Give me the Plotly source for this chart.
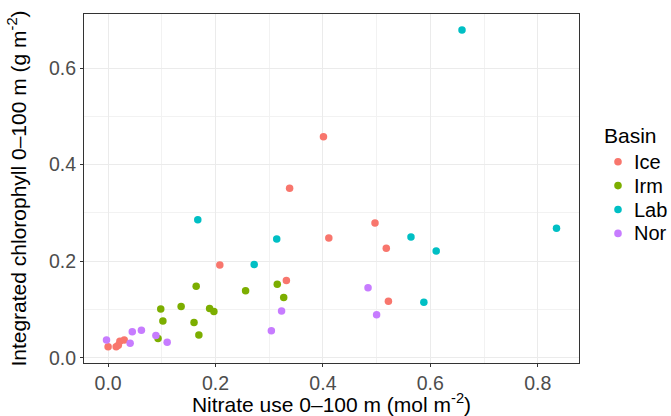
import plotly.graph_objects as go

# Nitrate use (mol m-2) and integrated chlorophyll (g m-2), 0-100 m, by basin
ice_nitrate = [0.000, 0.015, 0.019, 0.022, 0.030, 0.208, 0.332, 0.338, 0.401, 0.411, 0.497, 0.518, 0.522]
ice_chl     = [0.023, 0.023, 0.026, 0.034, 0.037, 0.192, 0.160, 0.351, 0.458, 0.248, 0.279, 0.227, 0.117]

irm_nitrate = [0.093, 0.098, 0.102, 0.136, 0.160, 0.164, 0.169, 0.189, 0.197, 0.256, 0.315, 0.327]
irm_chl     = [0.040, 0.101, 0.076, 0.106, 0.073, 0.148, 0.047, 0.102, 0.096, 0.139, 0.152, 0.125]

lab_nitrate = [0.167, 0.272, 0.314, 0.564, 0.588, 0.611, 0.659, 0.835]
lab_chl     = [0.286, 0.193, 0.246, 0.250, 0.115, 0.221, 0.679, 0.268]

nor_nitrate = [-0.003, 0.041, 0.045, 0.062, 0.089, 0.110, 0.304, 0.323, 0.484, 0.500]
nor_chl     = [0.037, 0.030, 0.054, 0.057, 0.046, 0.032, 0.056, 0.097, 0.145, 0.089]

basins = ["Ice", "Irm", "Lab", "Nor"]
colors = ["#F8766D", "#7CAE00", "#00BFC4", "#C77CFF"]
xs = [ice_nitrate, irm_nitrate, lab_nitrate, nor_nitrate]
ys = [ice_chl, irm_chl, lab_chl, nor_chl]

x_ticks = [0.0, 0.2, 0.4, 0.6, 0.8]
y_ticks = [0.0, 0.2, 0.4, 0.6]

FONT = "Liberation Sans, Arial, Helvetica, sans-serif"
W, H = 671, 416
ML, MR, MT, MB = 84, 92, 14, 53
PW, PH = W - ML - MR, H - MT - MB

fig = go.Figure()
for name, col, x, y in zip(basins, colors, xs, ys):
    fig.add_trace(go.Scatter(
        x=x, y=y, mode="markers", name=name, showlegend=False,
        marker=dict(color=col, size=7.5, line=dict(width=0)),
    ))

axis_common = dict(
    showgrid=True, gridcolor="#EBEBEB", gridwidth=1.1,
    zeroline=False,
    showline=True, linecolor="#333333", linewidth=1.1, mirror=True,
    ticks="outside", ticklen=3, tickcolor="#333333", tickwidth=1.1,
    tickfont=dict(family=FONT, size=19.5, color="#4D4D4D"),
    automargin=False,
)

fig.update_xaxes(
    **axis_common,
    range=[-0.0449, 0.8769],
    tickvals=x_ticks, ticktext=[f"{v:.1f}" for v in x_ticks],
    minor=dict(showgrid=True, gridcolor="#F2F2F2", gridwidth=0.6,
               tickvals=[0.1, 0.3, 0.5, 0.7], ticks=""),
    title=dict(text="Nitrate use 0\u2013100 m (mol m<sup>-2</sup>)",
               font=dict(family=FONT, size=21, color="black"), standoff=0),
)
fig.update_yaxes(
    **axis_common,
    range=[-0.0109, 0.7121],
    tickvals=y_ticks, ticktext=[f"{v:.1f}" for v in y_ticks],
    minor=dict(showgrid=True, gridcolor="#F2F2F2", gridwidth=0.6,
               tickvals=[0.1, 0.3, 0.5], ticks=""),
    title=dict(text="Integrated chlorophyll 0\u2013100 m (g m<sup>-2</sup>)",
               font=dict(family=FONT, size=21, color="black"), standoff=16),
)


# Legend drawn in pixel positions converted to paper coordinates
def px(xp):
    return (xp - ML) / PW


def py(yp):
    return 1 - (yp - MT) / PH


annotations = [dict(
    text="Basin", xref="paper", yref="paper", x=px(602), y=py(135.5),
    xanchor="left", yanchor="middle", showarrow=False,
    font=dict(family=FONT, size=21, color="black"),
)]
shapes = []
r = 3.8
for i, (name, col) in enumerate(zip(basins, colors)):
    yc = 161.7 + 23.9 * i
    shapes.append(dict(
        type="circle", xref="paper", yref="paper",
        x0=px(618 - r), x1=px(618 + r), y0=py(yc + r), y1=py(yc - r),
        fillcolor=col, line=dict(width=0),
    ))
    annotations.append(dict(
        text=name, xref="paper", yref="paper", x=px(632), y=py(yc),
        xanchor="left", yanchor="middle", showarrow=False,
        font=dict(family=FONT, size=20, color="black"),
    ))

fig.update_layout(
    width=W, height=H,
    margin=dict(l=ML, r=MR, t=MT, b=MB, autoexpand=False),
    paper_bgcolor="white", plot_bgcolor="white",
    font=dict(family=FONT, size=20, color="black"),
    showlegend=False,
    annotations=annotations,
    shapes=shapes,
)

fig.write_html("out.html")
